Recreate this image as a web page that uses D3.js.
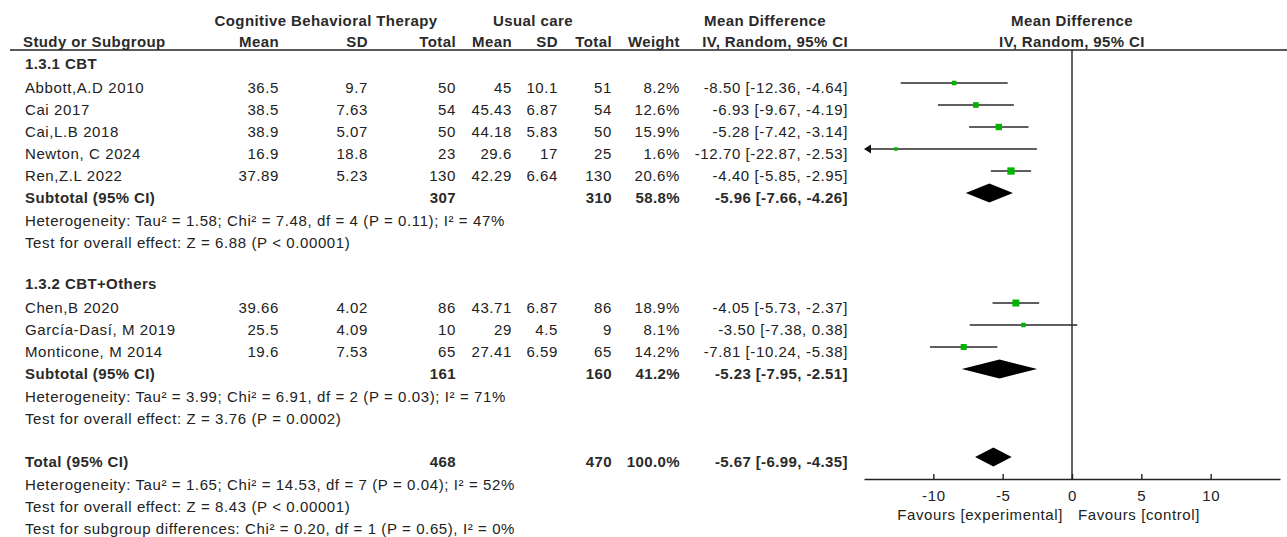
<!DOCTYPE html>
<html>
<head>
<meta charset="utf-8">
<script src="https://cdn.jsdelivr.net/npm/d3@7"></script>
<style>
  html, body { margin: 0; padding: 0; background: #fff; }
  svg text { font-family: "Liberation Sans", Arial, sans-serif; font-size: 15px; fill: #222; letter-spacing: 0.6px; }
  svg text.b { font-weight: bold; letter-spacing: 0.4px; fill: #2a2a2a; }
</style>
</head>
<body>
<svg id="chart" width="1287" height="537"></svg>
<script>
// ---------- data ----------
const studies   = ["Abbott,A.D 2010", "Cai 2017", "Cai,L.B 2018", "Newton, C 2024", "Ren,Z.L 2022",
                   "Chen,B 2020", "García-Dasí, M 2019", "Monticone, M 2014"];
const studyGroup = [0, 0, 0, 0, 0, 1, 1, 1];
const cbtMean   = [36.5, 38.5, 38.9, 16.9, 37.89, 39.66, 25.5, 19.6];
const cbtSD     = [9.7, 7.63, 5.07, 18.8, 5.23, 4.02, 4.09, 7.53];
const cbtN      = [50, 54, 50, 23, 130, 86, 10, 65];
const ucMean    = [45, 45.43, 44.18, 29.6, 42.29, 43.71, 29, 27.41];
const ucSD      = [10.1, 6.87, 5.83, 17, 6.64, 6.87, 4.5, 6.59];
const ucN       = [51, 54, 50, 25, 130, 86, 9, 65];
const weight    = [8.2, 12.6, 15.9, 1.6, 20.6, 18.9, 8.1, 14.2];
const md        = [-8.50, -6.93, -5.28, -12.70, -4.40, -4.05, -3.50, -7.81];
const ciLow     = [-12.36, -9.67, -7.42, -22.87, -5.85, -5.73, -7.38, -10.24];
const ciHigh    = [-4.64, -4.19, -3.14, -2.53, -2.95, -2.37, 0.38, -5.38];

const groupNames   = ["1.3.1 CBT", "1.3.2 CBT+Others"];
const groupCbtN    = [307, 161];
const groupUcN     = [310, 160];
const groupWeight  = [58.8, 41.2];
const groupMd      = [-5.96, -5.23];
const groupLow     = [-7.66, -7.95];
const groupHigh    = [-4.26, -2.51];
const groupHet     = ["Heterogeneity: Tau² = 1.58; Chi² = 7.48, df = 4 (P = 0.11); I² = 47%",
                      "Heterogeneity: Tau² = 3.99; Chi² = 6.91, df = 2 (P = 0.03); I² = 71%"];
const groupTest    = ["Test for overall effect: Z = 6.88 (P < 0.00001)",
                      "Test for overall effect: Z = 3.76 (P = 0.0002)"];

const totalCbtN = 468, totalUcN = 470, totalWeight = 100.0;
const totalMd = -5.67, totalLow = -6.99, totalHigh = -4.35;
const totalNotes = ["Heterogeneity: Tau² = 1.65; Chi² = 14.53, df = 7 (P = 0.04); I² = 52%",
                    "Test for overall effect: Z = 8.43 (P < 0.00001)",
                    "Test for subgroup differences: Chi² = 0.20, df = 1 (P = 0.65), I² = 0%"];

const axisTicks = [-10, -5, 0, 5, 10];
const axisDomain = [-15, 15];
const favourLabels = ["Favours [experimental]", "Favours [control]"];

// ---------- layout ----------
const svg = d3.select("#chart");
const x = d3.scaleLinear().domain(axisDomain).range([864, 1280]);
const rowY = d3.scaleLinear().domain([0, 1]).range([61, 83]);
const axisY = 479, headerLineY = 50;

// column right edges
const col = { name: 25, cm: 279, csd: 368, cn: 456, um: 512, usd: 558, un: 612, w: 680, ci: 848 };

// build rows
const rows = [];
groupNames.forEach((g, gi) => {
  rows.push({ type: "group", label: g });
  studies.forEach((s, i) => { if (studyGroup[i] === gi) rows.push({ type: "study", i }); });
  rows.push({ type: "subtotal", g: gi });
  rows.push({ type: "note", label: groupHet[gi] });
  rows.push({ type: "note", label: groupTest[gi] });
  rows.push({ type: "blank" });
});
rows.push({ type: "total" });
totalNotes.forEach(t => rows.push({ type: "note", label: t }));
rows.forEach((r, k) => r.k = k);

const fmtCI = (m, l, h) => `${m.toFixed(2)} [${l.toFixed(2)}, ${h.toFixed(2)}]`;
const fmtW = w => w.toFixed(1) + "%";

function txt(xp, yp, s, anchor, bold) {
  svg.append("text").attr("x", xp).attr("y", yp)
    .attr("text-anchor", anchor || "start")
    .attr("class", bold ? "b" : null).text(s);
}

// ---------- headers ----------
txt(326, 26, "Cognitive Behavioral Therapy", "middle", true);
txt(533, 26, "Usual care", "middle", true);
txt(765, 26, "Mean Difference", "middle", true);
txt(23, 47, "Study or Subgroup", "start", true);
[["Mean", col.cm], ["SD", col.csd], ["Total", col.cn], ["Mean", col.um], ["SD", col.usd],
 ["Total", col.un], ["Weight", col.w], ["IV, Random, 95% CI", col.ci]]
  .forEach(([s, c]) => txt(c, 47, s, "end", true));
txt(x(0), 26, "Mean Difference", "middle", true);
txt(x(0), 47, "IV, Random, 95% CI", "middle", true);

svg.append("line").attr("x1", 10).attr("x2", 1287).attr("y1", headerLineY).attr("y2", headerLineY)
  .attr("stroke", "#222").attr("stroke-width", 1.6);

// zero line
svg.append("line").attr("x1", x(0)).attr("x2", x(0)).attr("y1", headerLineY).attr("y2", axisY)
  .attr("stroke", "#222").attr("stroke-width", 1.4);

// ---------- rows ----------
const green = "#00b400";
rows.forEach(r => {
  const y = rowY(r.k);
  const base = y + 9.5;
  if (r.type === "group") {
    txt(col.name, base - 1.5, r.label, "start", true);
  } else if (r.type === "note") {
    txt(col.name, base + 1, r.label, "start", false);
  } else if (r.type === "study") {
    const i = r.i;
    txt(col.name, base, studies[i]);
    txt(col.cm, base, String(cbtMean[i]), "end");
    txt(col.csd, base, String(cbtSD[i]), "end");
    txt(col.cn, base, String(cbtN[i]), "end");
    txt(col.um, base, String(ucMean[i]), "end");
    txt(col.usd, base, String(ucSD[i]), "end");
    txt(col.un, base, String(ucN[i]), "end");
    txt(col.w, base, fmtW(weight[i]), "end");
    txt(col.ci, base, fmtCI(md[i], ciLow[i], ciHigh[i]), "end");
    // CI line
    const clipLow = ciLow[i] < axisDomain[0];
    const x1 = clipLow ? x(axisDomain[0]) + 6 : x(ciLow[i]);
    svg.append("line").attr("x1", x1).attr("x2", x(Math.min(ciHigh[i], axisDomain[1])))
      .attr("y1", y).attr("y2", y).attr("stroke", "#2a2a2a").attr("stroke-width", 1.6);
    if (clipLow) {
      const ax = x(axisDomain[0]);
      svg.append("path").attr("d", `M${ax},${y}L${ax + 7},${y - 4.5}L${ax + 7},${y + 4.5}Z`).attr("fill", "#111");
    }
    const s = Math.max(3.5, 1.6 * Math.sqrt(weight[i]));
    svg.append("rect").attr("x", x(md[i]) - s / 2).attr("y", y - s / 2)
      .attr("width", s).attr("height", s).attr("fill", green);
  } else if (r.type === "subtotal" || r.type === "total") {
    const isT = r.type === "total";
    const g = r.g;
    const lab = isT ? "Total (95% CI)" : "Subtotal (95% CI)";
    const m = isT ? totalMd : groupMd[g], l = isT ? totalLow : groupLow[g], h = isT ? totalHigh : groupHigh[g];
    txt(col.name, base, lab, "start", true);
    txt(col.cn, base, String(isT ? totalCbtN : groupCbtN[g]), "end", true);
    txt(col.un, base, String(isT ? totalUcN : groupUcN[g]), "end", true);
    txt(col.w, base, fmtW(isT ? totalWeight : groupWeight[g]), "end", true);
    txt(col.ci, base, fmtCI(m, l, h), "end", true);
    svg.append("path")
      .attr("d", `M${x(l)},${y}L${x(m)},${y - 9.5}L${x(h)},${y}L${x(m)},${y + 9.5}Z`)
      .attr("fill", "#000");
  }
});

// ---------- axis ----------
const axis = d3.axisBottom(x).tickValues(axisTicks).tickSizeInner(-5).tickSizeOuter(0).tickPadding(11)
  .tickFormat(d => String(d));
const ag = svg.append("g").attr("transform", `translate(0,${axisY})`).call(axis);
ag.select(".domain").attr("stroke", "#222").attr("stroke-width", 1.4);
ag.selectAll(".tick line").attr("stroke", "#222").attr("stroke-width", 1.4);
ag.selectAll(".tick text").attr("font-family", null).attr("font-size", null).attr("fill", "#222");
ag.attr("font-family", null).attr("font-size", null);

txt(x(0) - 9, 520, favourLabels[0], "end");
txt(x(0) + 6, 520, favourLabels[1], "start");
</script>
</body>
</html>
